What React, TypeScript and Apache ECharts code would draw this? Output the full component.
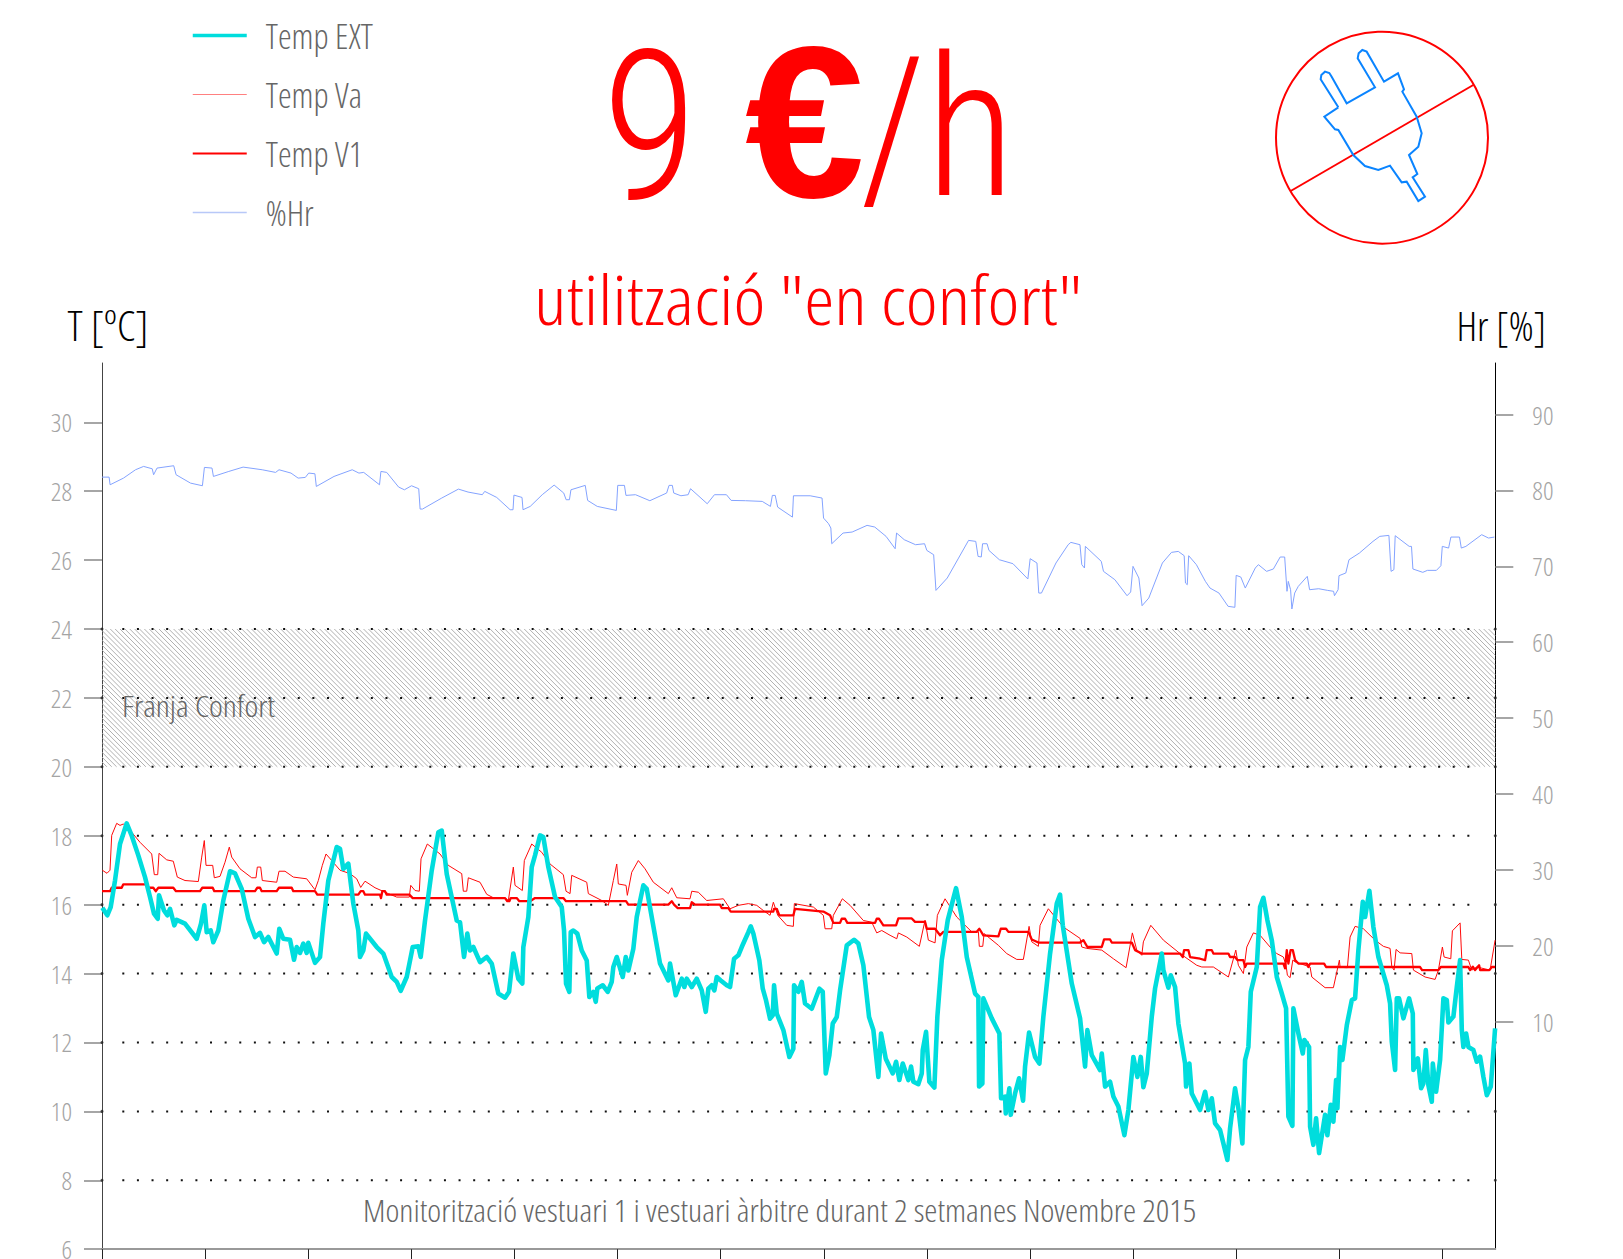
import React, { useEffect, useRef } from "react";
import * as echarts from "echarts";

// x unit: logger sample number (one sample every ~14 minutes), one tick per day
const xTicks = [0, 103.1, 206.2, 309.3, 412.4, 515.5, 618.6, 721.7, 824.8, 927.9, 1031, 1134.1, 1237.2, 1340.3];
const xMax = 1393.2;
const tempTicks = [6, 8, 10, 12, 14, 16, 18, 20, 22, 24, 26, 28, 30];
const humTicks = [10, 20, 30, 40, 50, 60, 70, 80, 90];
const dottedLevels = [8, 10, 12, 14, 16, 18, 20, 22, 24];
const comfortBand = [0, 24, xMax, 20];

const tempExt: number[][] = [
[0.3,15.91],[5.3,15.69],[8.7,15.93],[13,16.7],[18,17.76],[24.7,18.36],[29.7,18],[36.3,17.43],[43,16.8],[48,16.22],[52,15.74],[55.7,15.59],[57,16.27],[62,15.83],[65.3,15.69],[68,15.88],[72.3,15.4],[74.7,15.56],[83,15.45],[94.7,15.01],[99,15.45],[102.3,15.98],[104.7,15.2],[108.7,15.25],[111.3,14.91],[116.3,15.25],[121.3,16.12],[128,16.97],[133,16.91],[139.7,16.46],[146.3,15.59],[153,15.06],[158,15.18],[162,14.91],[166.3,15.06],[174.7,14.58],[177.3,15.3],[181.3,15.01],[188,14.98],[192,14.4],[194.7,14.77],[198,14.6],[201.3,14.87],[204.7,14.6],[206.3,14.89],[213,14.31],[218,14.48],[221.3,15.45],[226.3,16.7],[234.7,17.67],[238,17.62],[241.3,17.04],[246.3,17.19],[251.3,16.03],[256.3,15.25],[258,14.48],[261.3,14.67],[264,15.16],[274.7,14.77],[281.3,14.58],[289.7,13.9],[294.7,13.76],[298.7,13.5],[304.7,13.9],[310.7,14.77],[316.3,14.79],[318.7,14.48],[323,15.54],[329.7,16.99],[336.3,18.1],[339.7,18.15],[344.7,16.89],[354.7,15.54],[358,15.49],[362,14.48],[365.3,15.16],[368,14.67],[371.3,14.77],[378,14.33],[384.7,14.48],[389.7,14.29],[396.3,13.42],[403,13.3],
[407,13.47],[411.3,14.58],[416.3,13.85],[420.3,13.71],[421.3,14.77],[426.3,15.64],[429.7,17.09],[433,17.43],[438,18.01],[441.3,17.96],[446.3,17.09],[453,16.22],[459.7,15.93],[462,15.25],[464,13.71],[467.3,13.47],[468.7,15.2],[471.3,15.25],[475.3,15.16],[479.7,14.67],[484.7,14.38],[487.3,13.32],[491.3,13.47],[493.7,13.18],[495.3,13.57],[500.7,13.66],[505.7,13.47],[509.7,13.76],[511.3,14.19],[514.7,14.48],[520.7,13.9],[523.7,14.48],[526.3,14.09],[531.3,14.72],[534.7,15.64],[541.3,16.56],[544.7,16.46],[549.7,15.64],[558,14.29],[566.3,13.8],[568,14.29],[573.7,13.37],[579.7,13.85],[582.3,13.61],[584.7,13.85],[589.7,13.61],[594.7,13.85],[599.7,13.51],[603.7,12.89],[606.3,13.56],[609.7,13.66],[612.3,13.51],[614.7,13.9],[618.7,13.8],[624.7,13.66],[628,13.61],[632,14.43],[636.3,14.53],[639.7,14.77],[646.3,15.2],[648.7,15.37],[651.3,15.16],[657.3,14.38],[660.7,13.56],[664,13.22],[668,12.69],[670.7,12.79],[672,13.66],[674.7,12.84],[681.3,12.36],[687.3,11.58],[691.3,11.82],[692,13.66],[696.3,13.47],[699.7,13.76],[703,13.13],[709.7,12.98],[717.3,13.56],[720.7,13.47],[723.7,11.1],[727.3,11.63],[730.7,12.55],[734.7,12.74],[738,13.51],[744.7,14.82],[752,14.98],[756.3,14.87],[761.3,14.24],[767,12.74],[771.3,12.36],[776.3,11],[779,12.26],[783.7,11.53],[790.7,11.1],[794,11.44],[797.3,10.91],
[800.7,11.39],[806.3,10.91],[809,11.3],[811.3,10.86],[816.3,10.79],[819.7,11.1],[820.7,11.78],[824,12.31],[827.3,10.86],[832.3,10.69],[835.3,12.75],[839.7,14.39],[845.7,15.55],[854,16.48],[859.7,15.64],[864.7,14.48],[873,13.42],[876.3,13.32],[877,10.72],[880.3,10.81],[881.3,13.28],[889.7,12.7],[897.3,12.26],[899,10.38],[903,10.43],[903.7,9.94],[907.3,10.67],[908.7,9.9],[913,10.52],[917,10.96],[921,10.31],[923,11.3],[927,12.29],[933,11.58],[937.3,11.39],[941.3,12.75],[948,14.58],[954.7,16.03],[958,16.29],[960.7,15.4],[969.7,13.71],[978,12.7],[983,11.3],[985.3,12.36],[989.7,11.63],[998,11.2],[999.7,11.68],[1003,10.72],[1008,10.86],[1011.3,10.43],[1016.3,10.14],[1022.3,9.31],[1026.3,10.04],[1031.3,11.58],[1035.3,11],[1038.7,11.58],[1041.3,10.7],[1044.7,11.1],[1049.7,12.75],[1053,13.57],[1059.7,14.58],[1061.3,14.1],[1066.3,13.59],[1068.7,13.95],[1073,13.61],[1076.3,12.55],[1083,11.39],[1084,10.72],[1087.3,11.39],[1089.7,10.52],[1098,10.04],[1103,10.57],[1106.3,10.04],[1109.7,10.38],[1113,9.65],[1118,9.46],[1121.3,9.07],[1125.3,8.59],[1128,9.51],[1133,10.67],[1136.3,10.09],[1140.3,9.07],[1143,11.49],[1146.3,11.87],[1148.7,13.47],[1154.7,14.19],[1158,15.93],[1161.3,16.2],
[1165.3,15.55],[1169.7,14.97],[1174.7,13.9],[1179.7,13.42],[1184,12.99],[1186.3,9.85],[1190.3,9.58],[1191.3,12.99],[1196.3,12.26],[1200.7,11.68],[1202.3,12.07],[1207,11.87],[1208,9.56],[1211.3,9.03],[1214,9.8],[1217,8.79],[1223,9.9],[1225.3,9.31],[1228.7,10.19],[1231.3,9.7],[1234,10.91],[1235.3,10.09],[1238,11.87],[1240.3,11.49],[1244.7,12.5],[1249.7,13.23],[1253,13.28],[1256.3,14.68],[1260.7,16.08],[1263,15.64],[1267.3,16.4],[1271.3,15.35],[1276.3,14.48],[1284.7,13.66],[1288,13.13],[1289.7,12.02],[1293,11.2],[1294.7,13.28],[1297,13.28],[1301.3,12.7],[1307,13.28],[1310.7,12.84],[1311.3,11.2],[1315.7,11.54],[1319,10.67],[1321.3,10.81],[1323.7,11.78],[1326.3,10.76],[1329.7,10.28],[1330.7,11.39],[1334,10.57],[1338,11.49],[1341.3,13.28],[1344.7,13.23],[1346.3,12.58],[1351.3,12.75],[1354.7,13.61],[1358,14.39],[1359.7,12.36],[1361.3,11.87],[1364,12.26],[1366.3,11.87],[1371.3,11.78],[1374.7,11.44],[1378,11.59],[1381.3,11],[1384.7,10.47],[1388.7,10.72],[1393,12.41],
];

const tempVa: number[][] = [
[0.3,17],[5,16.91],[8,17],[9.7,18.01],[14.7,18.36],[18,18.3],[21.3,18.34],[29.7,18.1],[38,17.81],[49.7,17.47],[52.3,16.87],[55.7,16.87],[57,17.49],[64.7,17.3],[71.3,17.26],[75.3,16.8],[83,16.7],[96.3,16.67],[99.7,17.38],[102.3,17.86],[104,17.14],[110.7,17.14],[112.3,16.78],[118,16.82],[123,17.23],[127.3,17.67],[129.7,17.38],[138,17.04],[149.7,16.78],[154,16.78],[155.3,17.09],[158.7,17.09],[160.3,16.7],[174.7,16.65],[177,16.97],[183,16.97],[191.3,16.8],[204.7,16.75],[213,16.43],[216.3,16.7],[220.3,17.14],[224,17.47],[229.7,17.28],[238,17],[248,16.9],[254.7,16.75],[258.7,16.5],[263,16.68],[273,16.49],[286.3,16.32],[294.7,16.22],[307.3,16.22],[308.7,16.56],[313,16.41],[317.3,16.39],[319,17.33],[325.3,17.76],[338,17.47],[346.3,17.14],[359.7,16.9],[361.3,16.39],[364.7,16.39],[366.3,16.78],[378,16.65],[384.7,16.3],[391.3,16.2],[403,16.2],[406.3,16.12],
[411.3,17.09],[413,16.56],[420.3,16.41],[422.3,17.28],[429.7,17.76],[439.7,17.52],[448,17.18],[461.3,16.87],[464,16.39],[468,16.32],[469.7,16.85],[484.7,16.65],[486.3,16.32],[499.7,16.12],[506.3,15.98],[511.3,16.7],[514.7,17.18],[516.3,16.6],[524,16.56],[525.3,16.27],[529.7,16.94],[536.3,17.28],[543,17.04],[551.3,16.65],[566.3,16.32],[569.7,16.49],[574.7,16.2],[588,16.17],[589.7,16.39],[596.3,16.36],[604.7,16.12],[621.3,16.17],[628,15.88],[636.3,15.98],[646.3,16.03],[654.7,15.98],[661.3,15.83],[668,15.69],[671.3,16.07],[675.7,15.69],[684.7,15.4],[691.3,15.37],[692.3,16.03],[711.3,15.93],[721.3,15.69],[723,15.3],[729.7,15.3],[731.3,15.69],[740.3,16.17],[748,15.98],[761.3,15.54],[769.7,15.49],[774.7,15.18],[779.7,15.25],[788,15.11],[794.7,15.01],[796.3,15.18],
[804.7,15.06],[817.3,14.79],[823,15.55],[826.3,14.97],[833,14.89],[835.3,15.69],[843,16.17],[854.7,15.64],[869.7,15.21],[876.3,15.21],[877.3,14.79],[880.7,14.79],[882,15.16],[896.3,14.82],[904.7,14.58],[914.7,14.41],[921.3,14.41],[927,15.37],[929.7,14.92],[936.3,14.79],[938,15.4],[946.3,15.88],[961.3,15.35],[978,15.02],[979.7,14.77],[984.7,14.73],[999.7,14.68],[1011.3,14.43],[1024,14.17],[1030.3,15.18],[1034.7,14.68],[1039.7,14.53],[1041.3,14.92],[1048.7,15.4],[1061.3,14.97],[1078,14.58],[1094.7,14.24],[1099.7,14.19],[1111.3,14.19],[1126.3,13.9],[1133.7,14.68],[1136.3,14.24],[1141.3,14],[1144.7,14.77],[1151.3,15.18],[1158,15.11],[1168,14.77],[1174.7,14.58],
[1181.3,14.48],[1184,14.24],[1185.3,13.95],[1188,13.88],[1190.7,14.39],[1193,14.34],[1208,14.19],[1209.7,13.9],[1223,13.59],[1231.3,13.59],[1237.3,14.39],[1238,14.18],[1245.3,14.17],[1248,15.06],[1253,15.37],[1261.3,15.3],[1273,14.97],[1281.3,14.79],[1288,14.73],[1289.7,14.2],[1292,14.1],[1294,14.7],[1298,14.6],[1309.7,14.58],[1311.3,14.1],[1323,13.9],[1333,13.83],[1336.3,14.1],[1340.3,14.77],[1342,14.48],[1348.7,14.43],[1350.3,15.24],[1358,15.47],[1359.7,14.41],[1366.3,14.39],[1369.7,14.1],[1374.7,14.19],[1388,14.1],[1393,14.97],
];

const tempV1: number[][] = [
[0,16.39],[8,16.39],[9.7,16.49],[19.7,16.49],[21.3,16.59],[44.7,16.59],[46.3,16.49],[51.3,16.49],[53.7,16.39],[56.3,16.49],[71.3,16.49],[74,16.39],[98,16.39],[100.3,16.49],[110.7,16.49],[112.3,16.39],[153,16.39],[155.3,16.49],[158,16.49],[159.7,16.39],[174.7,16.39],[177,16.49],[189.7,16.49],[191.3,16.39],[213,16.39],[215.3,16.29],[256.3,16.29],[258.7,16.39],[261.3,16.39],[263,16.29],[278,16.29],[279,16.19],[280.3,16.39],[283,16.39],[284.7,16.29],[307.3,16.29],[310.7,16.19],[403,16.19],[405.3,16.1],[407.3,16.1],[408.7,16.19],[414.7,16.19],[417.3,16.1],[428,16.1],[433,16.19],[461.3,16.19],[464,16.1],[524,16.1],[526.3,16],[566.3,16],[569.7,16.1],[572,16],[575.7,15.9],[588,15.9],[589.7,16.07],[593,16],[618,16],[619.7,15.9],[626.3,15.9],[628.7,15.8],[671.3,15.8],[672,15.88],[674.7,15.88],[677.3,15.69],[691.3,15.69],[693,15.88],[721.3,15.8],[728,15.69],[731.3,15.47],[738,15.47],[739.7,15.59],[743,15.59],[745.3,15.47],[773,15.47],[774.7,15.59],[777,15.59],[781.3,15.4],[794,15.4],[796.3,15.6],[809.7,15.6],[813,15.5],[823,15.5],[824.7,15.3],[833,15.3],[838,15.11],[841.3,15.21],[874.7,15.21],[877.3,15.3],[881.3,15.11],[896.3,15.08],[898.7,15.3],[904,15.3],[906.3,15.21],[926.3,15.21],[929.7,14.99],[936.3,14.9],[978,14.9],[981.3,14.97],[985.3,14.77],[999.7,14.77],[1002,14.99],[1008,14.99],[1009.7,14.9],[1029.7,14.9],[1033,14.68],[1039.7,14.58],[1078,14.58],[1080.7,14.48],[1082,14.68],[1086.3,14.68],[1088,14.48],[1098,14.43],[1103,14.39],[1104.7,14.68],[1109.7,14.68],[1111.3,14.58],[1126.3,14.58],[1128,14.48],[1133,14.48],[1135.3,14.39],[1141.3,14.39],[1143,14.19],[1144.7,14.29],[1181.3,14.29],[1183,14.15],[1184.7,14.68],[1186.3,14.29],[1188.5,14.68],[1190.7,14.68],[1193,14.39],[1196.3,14.29],[1204.7,14.29],[1206.3,14.19],[1208,14.29],[1222,14.29],[1224,14.19],[1318,14.19],[1320,14.1],[1336.3,14.1],[1338.7,14.19],[1366.3,14.19],[1368,14.1],[1370.7,14.2],[1373,14.1],[1377,14.24],[1378,14.1],[1387.3,14.1],[1389.7,14.19],[1393,14.19],
];

const humidity: number[][] = [
[0,81.76],[7.1,81.76],[8.1,80.75],[21.5,81.63],[33.5,82.73],[41.6,83.17],[50.2,82.86],[51.6,82.07],[55,82.95],[71.7,83.26],[74.1,82.07],[88.5,80.97],[100.4,80.62],[102.4,83.04],[110,82.95],[111.4,81.85],[126.8,82.51],[141.1,83.08],[160.2,82.73],[173.6,82.38],[177,82.73],[189,82.29],[196.1,81.63],[203.3,81.72],[206.7,82.29],[212.9,82.2],[214.3,80.53],[232,81.85],[250.2,82.73],[256.9,82.29],[261.7,82.38],[277.5,80.75],[278.9,82.51],[284.7,82.38],[296.6,80.45],[302.4,80.09],[309.5,80.62],[316.7,80.23],[318.1,77.55],[320.5,77.55],[339.7,79],[356.4,80.18],[366,79.79],[380.3,79.44],[382.7,79.88],[394.7,79.08],[408.1,77.46],[411,77.46],[411.9,79.39],[420,79.08],[421,77.46],[428.2,77.9],[440.2,79.44],[452.1,80.71],[461.7,79.66],[464.1,78.78],[467.4,78.78],[468.9,80.09],[483.2,80.67],[485.6,78.69],[495.2,77.9],[514.3,77.37],[515.7,80.67],[522.4,80.67],[523.9,79.35],[533.5,79.44],[547.8,78.65],[564.6,79.66],[567,80.67],[570.3,80.67],[571.7,79.66],[578.9,79.3],[586.1,79.44],[588.5,80.23],[605.2,78.25],[612.4,79.44],[624.4,79.44],[629.1,78.69],[643.5,78.65],[660.2,78.56],[668.4,77.9],[670.3,79.35],[673.2,79.35],[675.6,77.81],[690.4,76.49],[691.4,79.3],[708.1,79.3],[720,79],[721.5,76.36],[726.5,75.62],[728.8,75.05],[729.7,72.98],[741,74.39],[750.1,74.52],[765,75.4],[772.7,75.18],[784,73.95],[793.1,72.32],[794.5,74.39],[802.2,73.51],[813.5,72.85],[822.5,72.98],[824.8,72.1],[831.6,71.53],[833.9,66.83],[845.2,68.46],[856.5,71.09],[866.5,73.42],[873.7,73.29],[876,71.31],[879.2,71.23],[880.5,72.98],[885,72.98],[886.9,72.1],[897.3,70.87],[910.9,70.35],[925.8,68.33],[928.1,71.01],[934.9,70.44],[936.7,66.48],[939.4,66.48],[953.9,70.44],[966.1,72.85],[968.8,73.16],[977.9,72.85],[979.7,70.22],[982.4,69.78],[983.3,72.63],[999.2,70.66],[1001.4,69.34],[1012.8,68.24],[1025,66.13],[1028.6,66.62],[1030.9,70],[1036.8,68.46],[1040,64.81],[1046.7,65.82],[1060.3,70.44],[1069.4,71.84],[1076.2,71.97],[1082.1,71.4],[1083.4,67.8],[1085.2,67.58],[1086.6,71.4],[1094.3,70.22],[1103.3,68.02],[1107.9,67.14],[1116.9,66.48],[1126,64.73],[1132.8,64.6],[1134.1,68.81],[1138.7,68.59],[1143.2,67.14],[1153.2,69.78],[1156.3,70.22],[1164.5,69.34],[1171.3,69.65],[1178.1,71.23],[1182.6,71.23],[1184.9,66.71],[1186.2,68.02],[1188.5,66.92],[1189.8,64.38],[1192.6,66.48],[1196.2,67.36],[1205.2,68.68],[1207.5,66.92],[1216.6,67.05],[1225.6,66.83],[1231.5,66.71],[1232.4,66.13],[1236,66.92],[1236.9,68.77],[1243.7,69.12],[1246.9,70.87],[1257.3,71.75],[1270.9,73.29],[1277.7,73.95],[1286.8,74.08],[1289,69.34],[1291.8,69.56],[1293.1,74.04],[1307.1,72.63],[1309.4,72.63],[1310.8,69.65],[1320.7,69.21],[1325.3,69.47],[1334.3,69.47],[1338.8,70.08],[1340.2,72.63],[1346.5,72.41],[1348.8,73.86],[1357.4,73.86],[1359.2,72.41],[1363.8,72.63],[1379.6,74.17],[1386.4,73.73],[1392.3,73.86],
];

const FONT = '"Open Sans", "Roboto", sans-serif';
const BIG_FONT = '"Roboto Condensed", "Roboto", sans-serif';
const RED = "#ff0000";
const GREY = "#666666";

const plugOutline = [
  [415,322],[362,238],[364,225],[375,215],[388,219],[395,230],[440,310],[525,262],[473,175],[476,160],[487,150],[500,155],[552,245],[594,220],[612,268],[607,275],[650,350],[665,400],[655,440],[627,465],[652,522],[638,532],[675,590],[655,603],[620,545],[605,547],[570,497],[535,510],[495,498],[460,465],[415,390],[405,388],[373,350],[415,322],
];

export default function App() {
  const ref = useRef<HTMLDivElement>(null);
  useEffect(() => {
    const chart = echarts.init(ref.current!, undefined, { renderer: "svg" });

    const hatch = (_p: any, api: any) => {
      const a = api.coord([api.value(0), api.value(1)]);
      const b = api.coord([api.value(2), api.value(3)]);
      const h = b[1] - a[1];
      const step = 4.87;
      const children: any[] = [];
      for (let o = -h; o < b[0] - a[0]; o += step) {
        const sx = a[0] + o;
        const ex = sx + h;
        const x1 = Math.max(sx, a[0]);
        const x2 = Math.min(ex, b[0]);
        children.push({
          type: "line",
          shape: { x1, y1: a[1] + (x1 - sx), x2, y2: a[1] + (x2 - sx) },
          style: { stroke: "#b0b0b0", lineWidth: 1 },
        });
      }
      return { type: "group", children };
    };

    const lineSeries = (name: string, data: number[][], color: string, width: number, z: number, yAxisIndex = 0) => ({
      name, type: "line", data, yAxisIndex, z, symbol: "none", showSymbol: false, silent: true,
      lineStyle: { color, width, join: "round" }, itemStyle: { color },
    });

    chart.setOption({
      animation: false,
      backgroundColor: "#ffffff",
      textStyle: { fontFamily: FONT },
      grid: { left: 102, right: 127.7, top: 363, bottom: 9.8, containLabel: false, outerBoundsMode: "none" },
      legend: {
        data: [
          { name: "Temp EXT", lineStyle: { width: 3.5, color: "#00dddd" } },
          { name: "Temp Va", lineStyle: { width: 1.2, color: "#ff8080" } },
          { name: "Temp V1", lineStyle: { width: 2, color: RED } },
          { name: "%Hr", lineStyle: { width: 1.3, color: "#b8c8f8" } },
        ],
        orient: "vertical", left: 191, top: 18, padding: 0, itemWidth: 54, itemHeight: 34, itemGap: 24,
        selectedMode: false,
        itemStyle: { opacity: 0, color: "transparent", borderWidth: 0 },
        textStyle: { color: GREY, fontSize: 34.5, lineHeight: 29, fontWeight: 300, fontFamily: FONT, padding: [0, 0, 5, 14] },
      },
      xAxis: {
        type: "value", min: 0, max: xMax, interval: 103.1,
        splitLine: { show: false },
        axisLine: { onZero: false, lineStyle: { color: "#999999", width: 2 } },
        axisTick: { show: true, length: 12, customValues: xTicks, lineStyle: { color: "#222222", width: 1 } },
        axisLabel: { show: false },
      },
      yAxis: [
        {
          type: "value", min: 6, max: 31.72, interval: 2, position: "left",
          name: "T [ºC]", nameLocation: "end", nameGap: 17,
          nameTextStyle: { color: "#000000", fontSize: 43, fontWeight: 300, fontFamily: FONT, padding: [0, 0, 0, 12] },
          splitLine: { show: false },
          axisLine: { show: true, onZero: false, lineStyle: { color: "#444444", width: 1 } },
          axisTick: { show: true, length: 18, customValues: tempTicks, lineStyle: { color: "#888888", width: 1.5 } },
          axisLabel: { show: true, margin: 30, customValues: tempTicks, color: "#a4a4a4", fontSize: 26, fontWeight: 300, fontFamily: FONT },
        },
        {
          type: "value", min: -20, max: 96.8, interval: 10, position: "right",
          name: "Hr [%]", nameLocation: "end", nameGap: 18,
          nameTextStyle: { color: "#000000", fontSize: 41, fontWeight: 300, fontFamily: FONT, padding: [0, 0, 0, 12] },
          splitLine: { show: false },
          axisLine: { show: true, onZero: false, lineStyle: { color: "#000000", width: 1 } },
          axisTick: { show: true, length: 18, customValues: humTicks, lineStyle: { color: "#888888", width: 1.5 } },
          axisLabel: { show: true, margin: 37, customValues: humTicks, color: "#a4a4a4", fontSize: 26, fontWeight: 300, fontFamily: FONT },
        },
      ],
      series: [
        {
          name: "Franja Confort", type: "custom", z: 1, silent: true, clip: true,
          renderItem: hatch, encode: { x: [0, 2], y: [1, 3] }, data: [comfortBand],
        },
        ...dottedLevels.map((lv) => ({
          name: "grid " + lv, type: "line", z: 2, symbol: "none", silent: true,
          data: [[20.3, lv], [1373, lv]],
          lineStyle: { color: "#111111", width: 2, type: [2, 12.62] },
        })),
        {
          name: "axis dots", type: "scatter", z: 3, symbol: "circle", symbolSize: 3, silent: true,
          data: dottedLevels.flatMap((lv) => [[0, lv], [xMax, lv]]),
          itemStyle: { color: "#222222" },
          clip: false,
        },
        lineSeries("%Hr", humidity, "#84a3ff", 1, 4, 1),
        lineSeries("Temp Va", tempVa, "#ff0a0a", 1, 5),
        lineSeries("Temp V1", tempV1, RED, 2.3, 6),
        lineSeries("Temp EXT", tempExt, "#00dddd", 4.6, 7),
      ],
      graphic: [
        { type: "text", x: 602, y: 127.5, scaleX: 0.94, z: 10,
          style: { text: "9", fontFamily: BIG_FONT, fontWeight: 340, fontSize: 209, fill: RED, textVerticalAlign: "middle" } },
        { type: "text", x: 745, y: 122, z: 10,
          style: { text: "€", fontFamily: "Liberation Sans", fontWeight: "bold", fontSize: 215, fill: RED, textVerticalAlign: "middle" } },
        { type: "text", x: 860, y: 128.5, scaleX: 0.95, z: 10,
          style: { text: "/h", fontFamily: BIG_FONT, fontWeight: 340, fontSize: 195, fill: RED, textVerticalAlign: "middle" } },
        { type: "text", x: 534, y: 299, scaleX: 1.12, z: 10,
          style: { text: 'utilització "en confort"', fontFamily: FONT, fontWeight: 300, fontSize: 68, fill: RED, textVerticalAlign: "middle" } },
        { type: "text", x: 122, y: 705, scaleX: 1.1, z: 10,
          style: { text: "Franja Confort", fontFamily: FONT, fontWeight: 300, fontSize: 30, fill: "#666666", textVerticalAlign: "middle" } },
        { type: "text", x: 363, y: 1210, scaleX: 1.07, z: 10,
          style: { text: "Monitorització vestuari 1 i vestuari àrbitre durant 2 setmanes Novembre 2015", fontFamily: FONT, fontWeight: 300, fontSize: 31, fill: "#666666", textVerticalAlign: "middle" } },
        { type: "circle", z: 10, shape: { cx: 1382, cy: 137.7, r: 106 }, style: { fill: "none", stroke: RED, lineWidth: 2 } },
        { type: "line", z: 10, shape: { x1: 1290.7, y1: 191, x2: 1473.3, y2: 85 }, style: { stroke: RED, lineWidth: 2 } },
        { type: "polyline", z: 11, shape: { points: plugOutline.map(([x, y]) => [1200 + x / 3, y / 3]) }, style: { fill: "none", stroke: "#0a84ff", lineWidth: 2 } },
      ],
    });
    return () => chart.dispose();
  }, []);
  return (
    <div>
      <style>{`text{font-stretch:87% !important}`}</style>
      <div ref={ref} style={{ position: "absolute", left: 0, top: 0, width: 1623, height: 1259 }} />
    </div>
  );
}
